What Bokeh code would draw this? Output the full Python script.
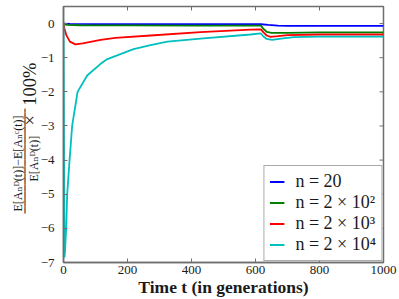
import math
from bokeh.plotting import figure
from bokeh.models import (Range1d, FixedTicker, Title, CustomJSTickFormatter, Legend, LegendItem)
from bokeh.embed import file_html
from bokeh.resources import INLINE

# ---- data ----
t_blue = [0, 20, 100, 300, 500, 617, 640, 670, 700, 800, 1000]
v_blue = [0, -0.01, -0.015, -0.02, -0.02, -0.02, -0.04, -0.06, -0.07, -0.07, -0.07]

t_green = [0, 10, 50, 200, 400, 617, 625, 635, 650, 700, 800, 1000]
v_green = [0, -0.04, -0.05, -0.055, -0.06, -0.06, -0.16, -0.24, -0.27, -0.27, -0.26, -0.26]

t_red = [0, 3, 9, 20, 37, 60, 116, 162, 272, 428, 584, 617, 625, 635, 647, 670, 700, 800, 1000]
v_red = [0, -0.15, -0.34, -0.53, -0.61, -0.58, -0.48, -0.42, -0.35, -0.25, -0.18, -0.17,
         -0.26, -0.35, -0.39, -0.37, -0.34, -0.32, -0.32]

t_cyan = [0, 3, 4.5, 8.4, 11.5, 19, 27, 44, 74, 116, 137, 219, 272, 325, 428, 584, 617,
          625, 635, 652, 680, 720, 800, 1000]
v_cyan = [0, -6.85, -6.7, -6.0, -5.0, -4.0, -3.0, -2.0, -1.52, -1.18, -1.04, -0.75, -0.63,
          -0.53, -0.44, -0.32, -0.29, -0.38, -0.45, -0.48, -0.44, -0.40, -0.38, -0.38]

series_labels = ["n = 20", "n = 2 × 10²", "n = 2 × 10³", "n = 2 × 10⁴"]
series_colors = ["#0000ff", "#008000", "#ff0000", "#00bfbf"]

x_ticks = [0, 200, 400, 600, 800, 1000]
y_ticks = [-7, -6, -5, -4, -3, -2, -1, 0]
x_lo, x_hi = 0, 1000
y_lo, y_hi = -7, 0.5

ylabel_num = "E[Aₙᴰ(t)]−E[Aₙᶜ(t)]"
ylabel_den = "E[Aₙᴰ(t)]"
ylabel_pct = "×\u2002100%"
xlabel = "Time t (in generations)"

SERIF = "'Liberation Serif', 'DejaVu Serif', serif"
SPINE = "#6e6e6e"
INK = "#1a1a1a"

p = figure(width=399, height=299, output_backend="svg", toolbar_location=None,
           x_range=Range1d(x_lo, x_hi), y_range=Range1d(y_lo, y_hi),
           min_border_left=63, min_border_right=16, min_border_top=6, min_border_bottom=0,
           background_fill_color="white", border_fill_color="white")
p.grid.visible = False
p.outline_line_color = SPINE
p.outline_line_width = 1.5

fmt = CustomJSTickFormatter(code="return tick < 0 ? '\u2212' + Math.abs(tick) : tick.toString();")

for ax, ticks in ((p.xaxis[0], x_ticks), (p.yaxis[0], y_ticks)):
    ax.ticker = FixedTicker(ticks=ticks)
    ax.minor_tick_line_color = None
    ax.major_tick_in = 4
    ax.major_tick_out = 0
    ax.major_tick_line_color = SPINE
    ax.axis_line_color = SPINE
    ax.axis_line_width = 1.5
    ax.major_label_text_font = SERIF
    ax.major_label_text_font_size = "13px"
    ax.major_label_text_color = INK
    ax.formatter = fmt

p.xaxis.major_label_standoff = 3
p.yaxis.major_label_standoff = 9
p.xaxis.axis_label = xlabel
p.xaxis.axis_label_text_font = SERIF
p.xaxis.axis_label_text_font_style = "bold"
p.xaxis.axis_label_text_font_size = "17.5px"
p.xaxis.axis_label_standoff = 0
p.xaxis.axis_label_text_color = INK

# inward ticks on the top and right edges
p.ray(x=x_ticks, y=[y_hi] * len(x_ticks), length=4, length_units="screen",
      angle=-math.pi / 2, line_color=SPINE, line_width=1)
p.ray(x=[x_hi] * len(y_ticks), y=y_ticks, length=4, length_units="screen",
      angle=math.pi, line_color=SPINE, line_width=1)

renderers = []
for t, v, c in zip([t_blue, t_green, t_red, t_cyan], [v_blue, v_green, v_red, v_cyan], series_colors):
    renderers.append(p.line(t, v, line_color=c, line_width=1.8))

legend = Legend(items=[LegendItem(label=lab, renderers=[r]) for lab, r in zip(series_labels, renderers)],
                location="bottom_right")
legend.label_text_font = SERIF
legend.label_text_font_size = "18px"
legend.label_text_color = INK
legend.glyph_width = 15
legend.label_standoff = 11
legend.spacing = 0
legend.label_height = 21
legend.glyph_height = 21
legend.padding = 5
legend.margin = 1
legend.border_line_color = "#555555"
legend.border_line_width = 1.5
legend.background_fill_alpha = 1
p.add_layout(legend)

# y-axis label: a fraction built from titles in the left panel
t_den = Title(text=ylabel_den, align="left", offset=81, vertical_align="bottom", standoff=-6,
              text_font=SERIF, text_font_size="12px", text_font_style="normal", text_color=INK)
t_pct = Title(text=ylabel_pct, align="left", offset=137, vertical_align="bottom", standoff=-25,
              text_font=SERIF, text_font_size="18.5px", text_font_style="normal", text_color=INK)
t_bar = Title(text="━" * 29, align="left", offset=49, vertical_align="bottom", standoff=0,
              text_font="DejaVu Sans Mono", text_font_size="6px", text_font_style="normal", text_color=INK)
t_num = Title(text=ylabel_num, align="left", offset=51, vertical_align="bottom", standoff=-12,
              text_font=SERIF, text_font_size="12px", text_font_style="normal", text_color=INK)
for t in (t_den, t_pct, t_bar, t_num):
    p.add_layout(t, "left")

open("out.html", "w").write(file_html(p, INLINE))
